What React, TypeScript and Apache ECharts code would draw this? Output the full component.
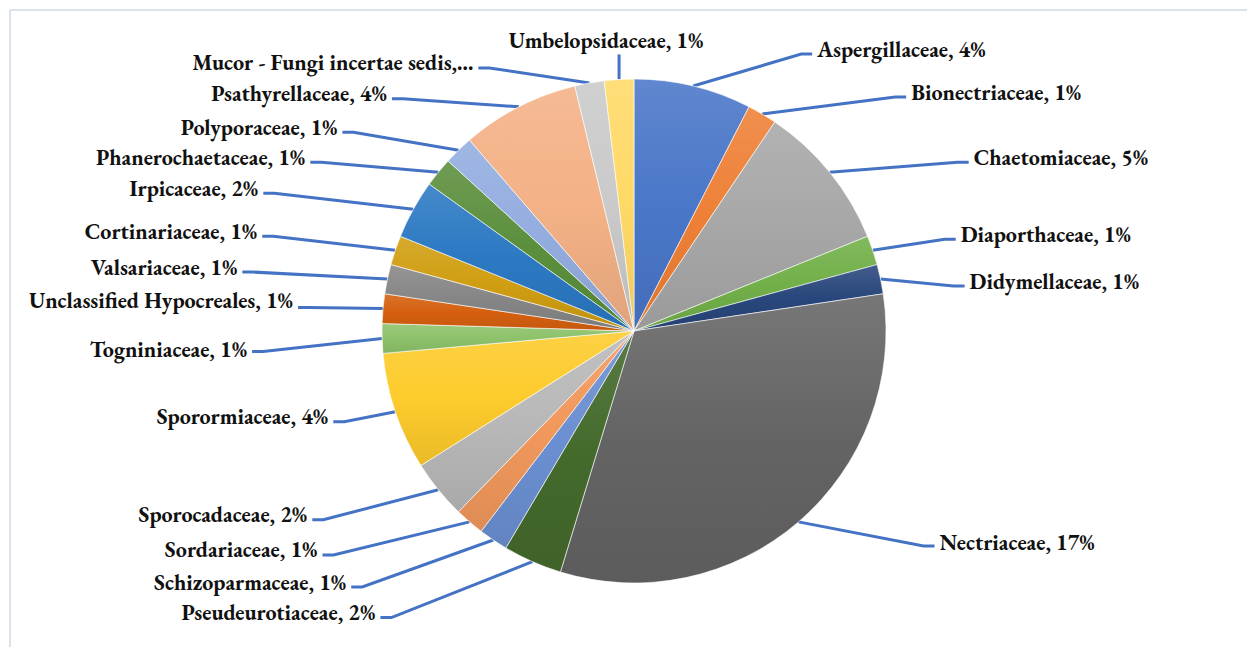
import React, { useEffect, useRef } from "react";
import * as echarts from "echarts";

// ---- data ----
const FAMILIES = [
  "Aspergillaceae",
  "Bionectriaceae",
  "Chaetomiaceae",
  "Diaporthaceae",
  "Didymellaceae",
  "Nectriaceae",
  "Pseudeurotiaceae",
  "Schizoparmaceae",
  "Sordariaceae",
  "Sporocadaceae",
  "Sporormiaceae",
  "Togniniaceae",
  "Unclassified Hypocreales",
  "Valsariaceae",
  "Cortinariaceae",
  "Irpicaceae",
  "Phanerochaetaceae",
  "Polyporaceae",
  "Psathyrellaceae",
  "Mucor - Fungi incertae sedis",
  "Umbelopsidaceae",
];
const PERCENTS = [4, 1, 5, 1, 1, 17, 2, 1, 1, 2, 4, 1, 1, 1, 1, 2, 1, 1, 4, 1, 1];
// labels cut short in the original chart
const TRUNCATED_LABELS = ["Mucor - Fungi incertae sedis"];

// ---- styles ----
const COLORS = [
  "#4A77C9", "#EE8036", "#A7A7A7", "#72B049", "#29477C", "#646464", "#446A2C",
  "#6B8FD2", "#F1985C", "#B8B8B8", "#FDCB2C", "#8DC26A", "#D5600F", "#868686",
  "#D09E12", "#2C79C3", "#5B8F3D", "#93ADDF", "#F4B186", "#CACACA", "#FFD967",
];
// label anchor (end of leader line) relative to the slice's outer mid point
const LABEL_OFFSETS: [number, number][] = [
  [119, -32], [144, -17], [139, -10], [83, -11], [84, 7], [136, 24],
  [-152, 56], [-142, 47], [-147, 33], [-126, 30], [-62, 10], [-130, 13],
  [-85, -1], [-145, -7], [-133, -14], [-150, -16], [-128, -10], [-116, -18],
  [-127, -8], [-111, -15], [0, -25],
];
// extra vertical lift of each label above its leader end
const TEXT_RAISE = [5, 5, 5, 5, 5, 3, 5, 5, 5, 5, 5, 2, 7, 5, 5, 5, 5, 5, 5, 5, 5];
const ELBOW = 11;
const GAP = 5;
const FONT = "Garamond, 'EB Garamond', 'Liberation Serif', 'Times New Roman', serif";

function mix(hex: string, target: number, t: number): string {
  const n = parseInt(hex.slice(1), 16);
  const ch = [(n >> 16) & 255, (n >> 8) & 255, n & 255].map((c) =>
    Math.round(c + (target - c) * t)
  );
  return "#" + ch.map((c) => c.toString(16).padStart(2, "0")).join("");
}

export default function App() {
  const ref = useRef<HTMLDivElement>(null);
  useEffect(() => {
    if (!ref.current) return;
    const chart = echarts.init(ref.current, undefined, { renderer: "svg" });
    const data = FAMILIES.map((name, i) => ({
      name,
      value: PERCENTS[i],
      itemStyle: {
        color: {
          type: "linear",
          x: 0,
          y: 0,
          x2: 0,
          y2: 1,
          colorStops: [
            { offset: 0, color: mix(COLORS[i], 255, 0.12) },
            { offset: 0.5, color: COLORS[i] },
            { offset: 1, color: mix(COLORS[i], 0, 0.08) },
          ],
        },
      },
    }));
    chart.setOption({
      animation: false,
      backgroundColor: "#ffffff",
      graphic: [
        { type: "line", shape: { x1: 10, y1: 10, x2: 1247, y2: 10 }, style: { stroke: "#DCE2EB", lineWidth: 2 } },
        { type: "line", shape: { x1: 10, y1: 10, x2: 10, y2: 647 }, style: { stroke: "#DCE2EB", lineWidth: 2 } },
      ],
      series: [
        {
          type: "pie",
          center: [634, 331],
          radius: 252,
          startAngle: 90,
          clockwise: true,
          avoidLabelOverlap: false,
          data,
          itemStyle: { borderColor: "#ffffff", borderWidth: 0.6 },
          label: {
            show: true,
            position: "outside",
            alignTo: "none",
            fontFamily: FONT,
            fontWeight: "bold",
            fontSize: 22,
            color: "#111111",
            formatter: (p: any) =>
              TRUNCATED_LABELS.includes(p.name)
                ? `${p.name},…`
                : `${p.name}, ${p.value}%`,
          },
          labelLine: {
            show: true,
            length: 10,
            length2: 10,
            smooth: false,
            lineStyle: { color: "#4472C4", width: 3 },
          },
          labelLayout: (p: any) => {
            const pts = p.labelLinePoints;
            if (!pts) return {};
            const ex = pts[0][0];
            const ey = pts[0][1];
            const [ox, oy] = LABEL_OFFSETS[p.dataIndex];
            const ax = ex + ox;
            const ay = ey + oy;
            if (ox === 0) {
              return {
                x: ax - 13,
                y: ay - 3,
                align: "center",
                verticalAlign: "bottom",
                labelLinePoints: [[ex, ey], [ax, ay], [ax, ay]],
              };
            }
            const dir = ox < 0 ? -1 : 1;
            return {
              x: ax + dir * GAP,
              y: ay - TEXT_RAISE[p.dataIndex],
              align: dir < 0 ? "right" : "left",
              verticalAlign: "middle",
              labelLinePoints: [[ex, ey], [ax - dir * ELBOW, ay], [ax, ay]],
            };
          },
        },
      ],
    });
    return () => chart.dispose();
  }, []);
  return (
    <div
      ref={ref}
      style={{ position: "fixed", left: 0, top: 0, width: 1247, height: 647 }}
    />
  );
}
